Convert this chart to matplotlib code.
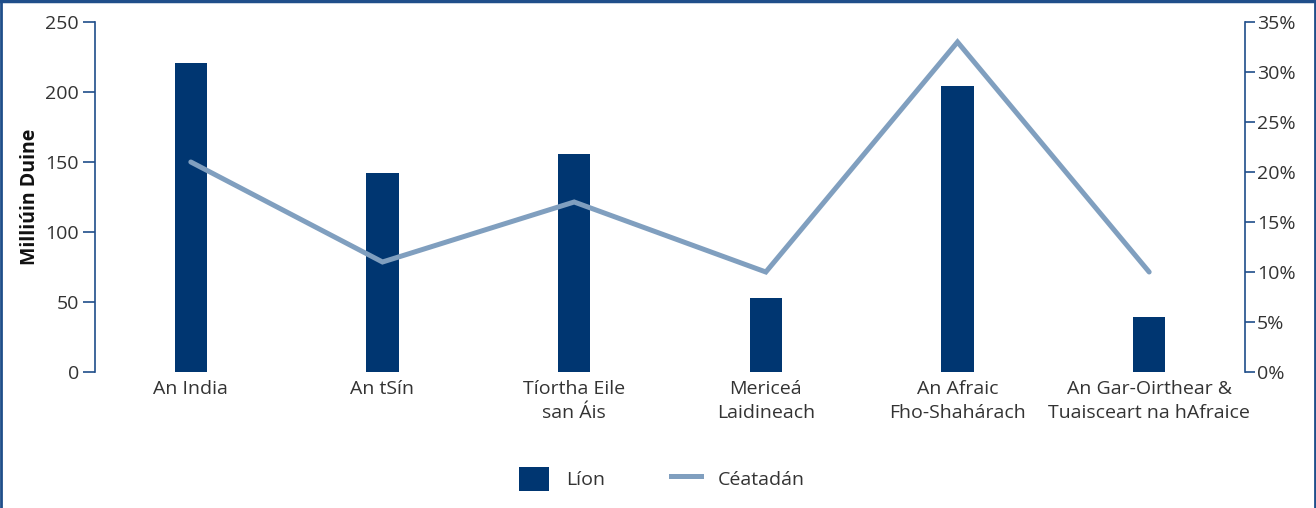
import matplotlib
matplotlib.use("Agg")
import matplotlib.pyplot as plt
from matplotlib.lines import Line2D
from matplotlib.patches import Patch
from matplotlib.ticker import FuncFormatter

categories = ["An India", "An tSín", "Tíortha Eile\nsan Áis", "Mericeá\nLaidineach",
              "An Afraic\nFho-Shahárach", "An Gar-Oirthear &\nTuaisceart na hAfraice"]
lion = [221, 142, 156, 53, 204, 39]
ceatadan = [21, 11, 17, 10, 33, 10]
left_ticks = [0, 50, 100, 150, 200, 250]
right_ticks = [0, 5, 10, 15, 20, 25, 30, 35]

bar_color = "#003671"
line_color = "#809FBF"
spine_color = "#1F4E8A"
text_color = "#333333"
fs = 14

plt.rcParams['font.family'] = ['Open Sans', 'DejaVu Sans']

fig = plt.figure(figsize=(13.16, 5.08), dpi=100)
ax = fig.add_axes([95/1316, 1-372/508, (1245-95)/1316, 350/508])
ax2 = ax.twinx()

x = list(range(len(categories)))
ax.bar(x, lion, width=0.167, color=bar_color, zorder=2)
ax2.plot(x, ceatadan, color=line_color, lw=3.6, solid_capstyle='round',
         solid_joinstyle='miter', zorder=3)

ax.set_xlim(-0.5, len(categories) - 0.5)
ax.set_ylim(0, 250)
ax2.set_ylim(0, 35)
ax.set_yticks(left_ticks)
ax2.set_yticks(right_ticks)
ax2.yaxis.set_major_formatter(FuncFormatter(lambda v, p: f"{v:.0f}%"))
ax.set_xticks(x)
ax.set_xticklabels(categories, fontsize=fs, color=text_color, linespacing=1.4)
ax.tick_params(axis='x', length=0, pad=6)
ax.tick_params(axis='y', direction='out', length=8.5, width=1.2, color=spine_color,
               labelsize=fs, labelcolor=text_color, pad=3)
ax2.tick_params(axis='y', direction='out', length=7, width=1.2, color=spine_color,
                labelsize=fs, labelcolor=text_color, pad=1.5)

for a in (ax, ax2):
    a.spines['top'].set_visible(False)
    a.spines['bottom'].set_visible(False)
    a.spines['left'].set_color(spine_color)
    a.spines['right'].set_color(spine_color)
    a.spines['left'].set_linewidth(1.2)
    a.spines['right'].set_linewidth(1.2)
    a.patch.set_visible(False)
ax2.spines['left'].set_visible(False)
ax.spines['right'].set_visible(False)

ax.set_ylabel("Milliúin Duine", fontsize=fs, fontweight='bold', color='#111111', labelpad=4)

handles = [Patch(facecolor=bar_color, edgecolor='none', label="Líon"),
           Line2D([0], [0], color=line_color, lw=3.6, label="Céatadán")]
fig.legend(handles=handles, loc='center', bbox_to_anchor=(662/1316, 1-479/508), ncol=2,
           frameon=False, fontsize=fs, handlelength=1.55, handleheight=1.55,
           handletextpad=0.85, columnspacing=3.4, labelcolor=text_color)

# outer frame
fig.add_artist(Line2D([0.0008, 0.0008], [0, 1], color=spine_color, lw=2, transform=fig.transFigure))
fig.add_artist(Line2D([0, 1], [0.998, 0.998], color=spine_color, lw=2.5, transform=fig.transFigure))
fig.add_artist(Line2D([0.9992, 0.9992], [0, 1], color=spine_color, lw=2, transform=fig.transFigure))

fig.savefig("out.png", dpi=100)
